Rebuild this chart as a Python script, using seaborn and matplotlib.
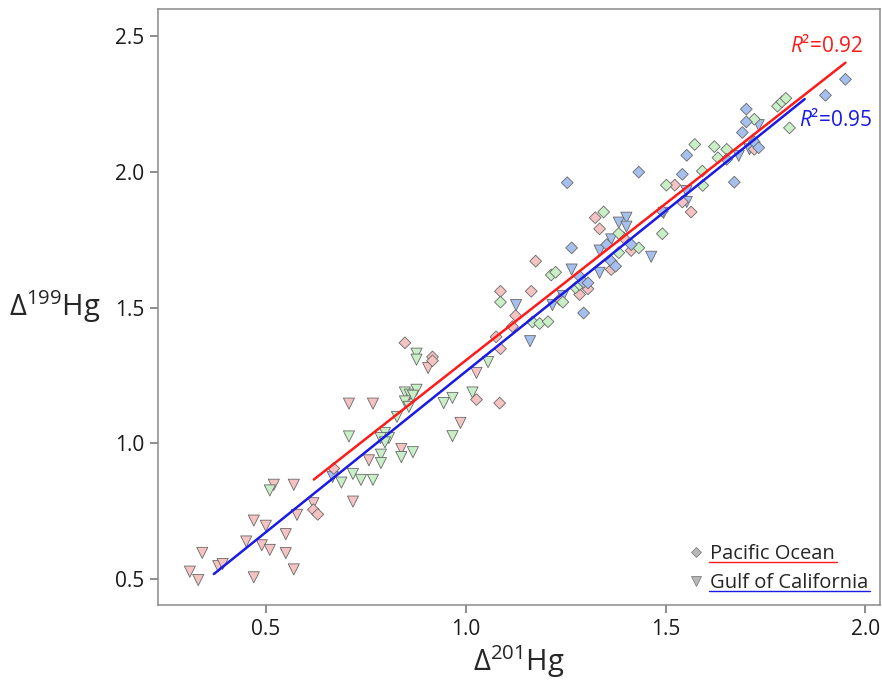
import numpy as np
import pandas as pd
import matplotlib
matplotlib.use("Agg")
import matplotlib.pyplot as plt
from matplotlib.lines import Line2D
import seaborn as sns

# ---------------- data ----------------
# Gulf of California (triangles), three colour groups
gulf_pink_x = [0.310, 0.331, 0.341, 0.381, 0.392, 0.451, 0.470, 0.470, 0.490, 0.500,
               0.510, 0.520, 0.550, 0.550, 0.570, 0.570, 0.578, 0.619, 0.718, 0.758,
               0.708, 0.768, 0.839, 0.906, 0.987, 1.027]
gulf_pink_y = [0.527, 0.496, 0.596, 0.547, 0.555, 0.638, 0.715, 0.506, 0.624, 0.696,
               0.607, 0.847, 0.665, 0.595, 0.847, 0.535, 0.736, 0.779, 0.785, 0.937,
               1.146, 1.146, 0.979, 1.277, 1.075, 1.259]

gulf_green_x = [0.510, 0.689, 0.718, 0.738, 0.768, 0.788, 0.788, 0.798, 0.808, 0.787,
                0.798, 0.839, 0.868, 0.708, 0.828, 0.848, 0.860, 0.877, 0.868, 0.848,
                0.858, 0.877, 0.877, 0.945, 0.967, 0.967, 1.017, 1.056]
gulf_green_y = [0.826, 0.855, 0.887, 0.865, 0.865, 0.958, 0.927, 1.038, 1.019, 1.019,
                1.003, 0.949, 0.967, 1.025, 1.097, 1.187, 1.179, 1.197, 1.175, 1.154,
                1.134, 1.330, 1.308, 1.148, 1.167, 1.026, 1.187, 1.299]

gulf_blue_x = [0.667, 1.126, 1.161, 1.217, 1.243, 1.265, 1.335, 1.335, 1.364, 1.383,
               1.402, 1.402, 1.464, 1.495, 1.552, 1.553, 1.683, 1.710, 1.733]
gulf_blue_y = [0.876, 1.509, 1.376, 1.509, 1.542, 1.640, 1.628, 1.710, 1.751, 1.813,
               1.831, 1.798, 1.687, 1.849, 1.929, 1.889, 2.059, 2.083, 2.172]

# Pacific Ocean (diamonds), three colour groups
pac_pink_x = [0.619, 0.630, 0.670, 0.848, 0.917, 0.917, 1.027, 1.085, 1.076, 1.087,
              1.087, 1.164, 1.175, 1.125, 1.117, 1.235, 1.285, 1.306, 1.324, 1.335,
              1.364, 1.395, 1.414, 1.523, 1.542, 1.564, 1.722]
pac_pink_y = [0.755, 0.738, 0.907, 1.370, 1.318, 1.304, 1.161, 1.148, 1.392, 1.348,
              1.560, 1.560, 1.671, 1.470, 1.430, 1.530, 1.548, 1.569, 1.831, 1.790,
              1.640, 1.757, 1.710, 1.951, 1.889, 1.852, 2.083]

pac_green_x = [1.087, 1.167, 1.185, 1.206, 1.214, 1.225, 1.243, 1.275, 1.285, 1.345,
               1.383, 1.433, 1.383, 1.492, 1.502, 1.573, 1.622, 1.653, 1.631, 1.592,
               1.593, 1.722, 1.780, 1.791, 1.801, 1.810]
pac_green_y = [1.520, 1.447, 1.441, 1.448, 1.620, 1.630, 1.520, 1.573, 1.585, 1.852,
               1.773, 1.720, 1.702, 1.772, 1.951, 2.101, 2.093, 2.083, 2.052, 2.003,
               1.950, 2.194, 2.242, 2.258, 2.271, 2.162]

pac_blue_x = [1.254, 1.433, 1.492, 1.353, 1.414, 1.265, 1.364, 1.375, 1.285, 1.295,
              1.306, 1.295, 1.542, 1.553, 1.653, 1.672, 1.692, 1.702, 1.702, 1.722,
              1.733, 1.900, 1.950]
pac_blue_y = [1.960, 1.999, 1.855, 1.732, 1.732, 1.720, 1.671, 1.652, 1.615, 1.593,
              1.591, 1.480, 1.991, 2.061, 2.046, 1.962, 2.145, 2.231, 2.184, 2.110,
              2.089, 2.282, 2.341]

# regression lines: (x start, x end), slope, intercept, R2 label
pac_fit_x = [0.62, 1.95]
pac_fit_slope, pac_fit_intercept = 1.155, 0.150
gulf_fit_x = [0.37, 1.848]
gulf_fit_slope, gulf_fit_intercept = 1.184, 0.080
pac_r2 = "0.92"
gulf_r2 = "0.95"

sites = ["Pacific Ocean", "Gulf of California"]
x_ticks = [0.5, 1.0, 1.5, 2.0]
y_ticks = [0.5, 1.0, 1.5, 2.0, 2.5]

# ---------------- build table ----------------
rows = []
for site, grp, xs, ys in [
    ("Gulf of California", "pink", gulf_pink_x, gulf_pink_y),
    ("Gulf of California", "green", gulf_green_x, gulf_green_y),
    ("Gulf of California", "blue", gulf_blue_x, gulf_blue_y),
    ("Pacific Ocean", "pink", pac_pink_x, pac_pink_y),
    ("Pacific Ocean", "green", pac_green_x, pac_green_y),
    ("Pacific Ocean", "blue", pac_blue_x, pac_blue_y),
]:
    for a, b in zip(xs, ys):
        rows.append({"site": site, "group": grp, "d201": a, "d199": b})
df = pd.DataFrame(rows)

fits = []
for site, xr, m, c in [("Pacific Ocean", pac_fit_x, pac_fit_slope, pac_fit_intercept),
                       ("Gulf of California", gulf_fit_x, gulf_fit_slope, gulf_fit_intercept)]:
    for xv in xr:
        fits.append({"site": site, "x": xv, "y": m * xv + c})
fit_df = pd.DataFrame(fits)

# ---------------- style ----------------
sns.set_style("white")
plt.rcParams["font.family"] = ["Open Sans", "DejaVu Sans"]
plt.rcParams["mathtext.fontset"] = "custom"
plt.rcParams["mathtext.rm"] = "Open Sans"
plt.rcParams["mathtext.it"] = "Open Sans:italic"

palette = {"pink": "#F5C3C1", "green": "#C8EFC5", "blue": "#A5C0EE"}
edge = "#686868"
red = "#FF1A1A"
blue = "#1A1AE6"

fig = plt.figure(figsize=(8.82, 6.93), dpi=100)
ax = fig.add_axes([0.179, 0.127, 0.819, 0.860])

sns.scatterplot(data=df[df.site == "Gulf of California"], x="d201", y="d199",
                hue="group", palette=palette, marker="v", s=64,
                edgecolor=edge, linewidth=0.6, legend=False, ax=ax, zorder=3)
sns.scatterplot(data=df[df.site == "Pacific Ocean"], x="d201", y="d199",
                hue="group", palette=palette, marker="D", s=36,
                edgecolor=edge, linewidth=0.6, legend=False, ax=ax, zorder=3)

sns.lineplot(data=fit_df, x="x", y="y", hue="site",
             palette={"Pacific Ocean": red, "Gulf of California": blue},
             linewidth=1.8, legend=False, ax=ax, zorder=4, estimator=None, sort=False)

ax.text(1.812, 2.463, "$R$²=" + pac_r2, color=red, fontsize=15,
        ha="left", va="center")
ax.text(1.834, 2.19, "$R$²=" + gulf_r2, color=blue, fontsize=15,
        ha="left", va="center")

ax.set_xlim(0.23, 2.037)
ax.set_ylim(0.404, 2.60)
ax.set_xticks(x_ticks)
ax.set_yticks(y_ticks)
ax.set_xticklabels([f"{v:.1f}" for v in x_ticks])
ax.set_yticklabels([f"{v:.1f}" for v in y_ticks])
ax.tick_params(axis="both", which="both", direction="out", length=6, width=1.2,
               color="#7a7a7a", labelsize=15, labelcolor="#1a1a1a", pad=4,
               bottom=True, left=True, top=False, right=False)
for sp in ax.spines.values():
    sp.set_color("#8a8a8a")
    sp.set_linewidth(1.1)

ax.set_xlabel(r"$\mathregular{\Delta^{201}Hg}$", fontsize=21, labelpad=2)
ax.set_ylabel(r"$\mathregular{\Delta^{199}Hg}$", fontsize=21, rotation=0,
              ha="right", va="center", labelpad=10)

handles = [Line2D([], [], marker="D", linestyle="none", markersize=5,
                  markerfacecolor="#b8b8b8", markeredgecolor="#808080", markeredgewidth=0.6),
           Line2D([], [], marker="v", linestyle="none", markersize=6.5,
                  markerfacecolor="#b8b8b8", markeredgecolor="#808080", markeredgewidth=0.6)]
leg = ax.legend(handles, sites, loc="lower right", bbox_to_anchor=(1.0, 0.0),
                frameon=False, fontsize=14.5, handlelength=0.7, handletextpad=0.35,
                labelspacing=0.45, borderaxespad=0.2)

fig.canvas.draw()
inv = fig.transFigure.inverted()
for txt, col in zip(leg.get_texts(), [red, blue]):
    bb = txt.get_window_extent()
    (x0, y0) = inv.transform((bb.x0 - 1, bb.y0 + 2))
    (x1, _) = inv.transform((bb.x1 + 2, bb.y0 + 2))
    fig.add_artist(Line2D([x0, x1], [y0, y0], color=col, linewidth=1.0,
                          transform=fig.transFigure))

fig.savefig("out.png", dpi=100)
